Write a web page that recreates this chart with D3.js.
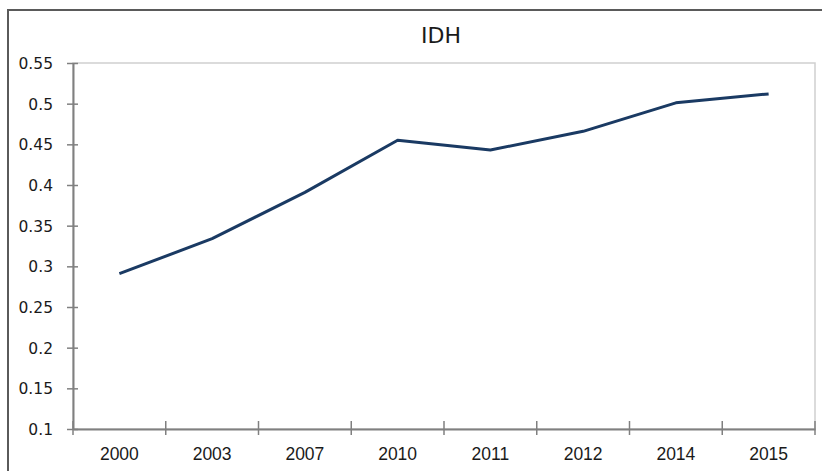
<!DOCTYPE html>
<html>
<head>
<meta charset="utf-8">
<script src="https://cdn.jsdelivr.net/npm/d3@7"></script>
<style>
  body { margin: 0; background: #fff; }
  svg { display: block; }
</style>
</head>
<body>
<svg id="chart" width="822" height="471"></svg>
<script>
const title = 'IDH'
const years = ['2000', '2003', '2007', '2010', '2011', '2012', '2014', '2015']
const idh = [0.291, 0.334, 0.391, 0.455, 0.443, 0.466, 0.501, 0.512]
const yTicks = [0.1, 0.15, 0.2, 0.25, 0.3, 0.35, 0.4, 0.45, 0.5, 0.55]

const margin = { left: 73, right: 7, top: 63, bottom: 42 }
const width = 822 - margin.left - margin.right
const height = 471 - margin.top - margin.bottom

const svg = d3.select('#chart')

// outer chart frame (runs off the bottom/right of the picture)
svg.append('rect')
    .attr('x', 8).attr('y', 10)
    .attr('width', 830).attr('height', 480)
    .attr('fill', 'none')
    .attr('stroke', '#5a5a5a')
    .attr('stroke-width', 2)

svg.append('text')
    .attr('x', 441).attr('y', 43)
    .attr('text-anchor', 'middle')
    .style('font-family', 'DejaVu Sans, sans-serif')
    .style('font-size', '22px')
    .attr('fill', '#1a1a1a')
    .text(title)

const g = svg.append('g')
    .attr('transform', `translate(${margin.left},${margin.top})`)

const x = d3.scaleBand().domain(years).range([0, width]).padding(0)
const y = d3.scaleLinear().domain([0.1, 0.55]).range([height, 0])

// plot area border (top / right light gray)
g.append('rect')
    .attr('width', width).attr('height', height)
    .attr('fill', 'none')
    .attr('stroke', '#cfcfcf')
    .attr('stroke-width', 1.5)

// y axis
const yAxis = g.append('g')
    .call(d3.axisLeft(y).tickValues(yTicks).tickSize(6).tickSizeOuter(0).tickPadding(14)
        .tickFormat(d => String(+d.toFixed(2))))
yAxis.select('.domain').attr('stroke', '#808080').attr('stroke-width', 2)
yAxis.selectAll('.tick line').attr('stroke', '#808080').attr('stroke-width', 1.5).attr('x1', 5)
yAxis.selectAll('.tick text')
    .style('font-family', 'DejaVu Sans, sans-serif')
    .style('font-size', '15.5px')
    .attr('fill', '#1a1a1a')
    .attr('dy', '0.36em')

// x axis: labels in band centres, ticks on band edges
const xAxis = g.append('g')
    .attr('transform', `translate(0,${height})`)
    .call(d3.axisBottom(x).tickSize(0).tickSizeOuter(0).tickPadding(19))
xAxis.select('.domain').attr('stroke', '#808080').attr('stroke-width', 2)
xAxis.selectAll('.tick text')
    .style('font-family', 'Liberation Sans, Arial, sans-serif')
    .style('font-size', '17.5px')
    .attr('fill', '#1a1a1a')

const edges = years.map(d => x(d)).concat([x.range()[1]])
xAxis.selectAll('.edge')
    .data(edges)
    .enter()
        .append('line')
        .attr('class', 'edge')
        .attr('x1', d => d).attr('x2', d => d)
        .attr('y1', -8).attr('y2', 6)
        .attr('stroke', '#808080')
        .attr('stroke-width', 1.5)

const line = d3.line()
    .x((d, i) => x(years[i]) + x.bandwidth() / 2)
    .y(d => y(d))

g.append('path')
    .datum(idh)
    .attr('fill', 'none')
    .attr('stroke', '#1a3a63')
    .attr('stroke-width', 3)
    .attr('stroke-linejoin', 'round')
    .attr('d', line)
</script>
</body>
</html>
